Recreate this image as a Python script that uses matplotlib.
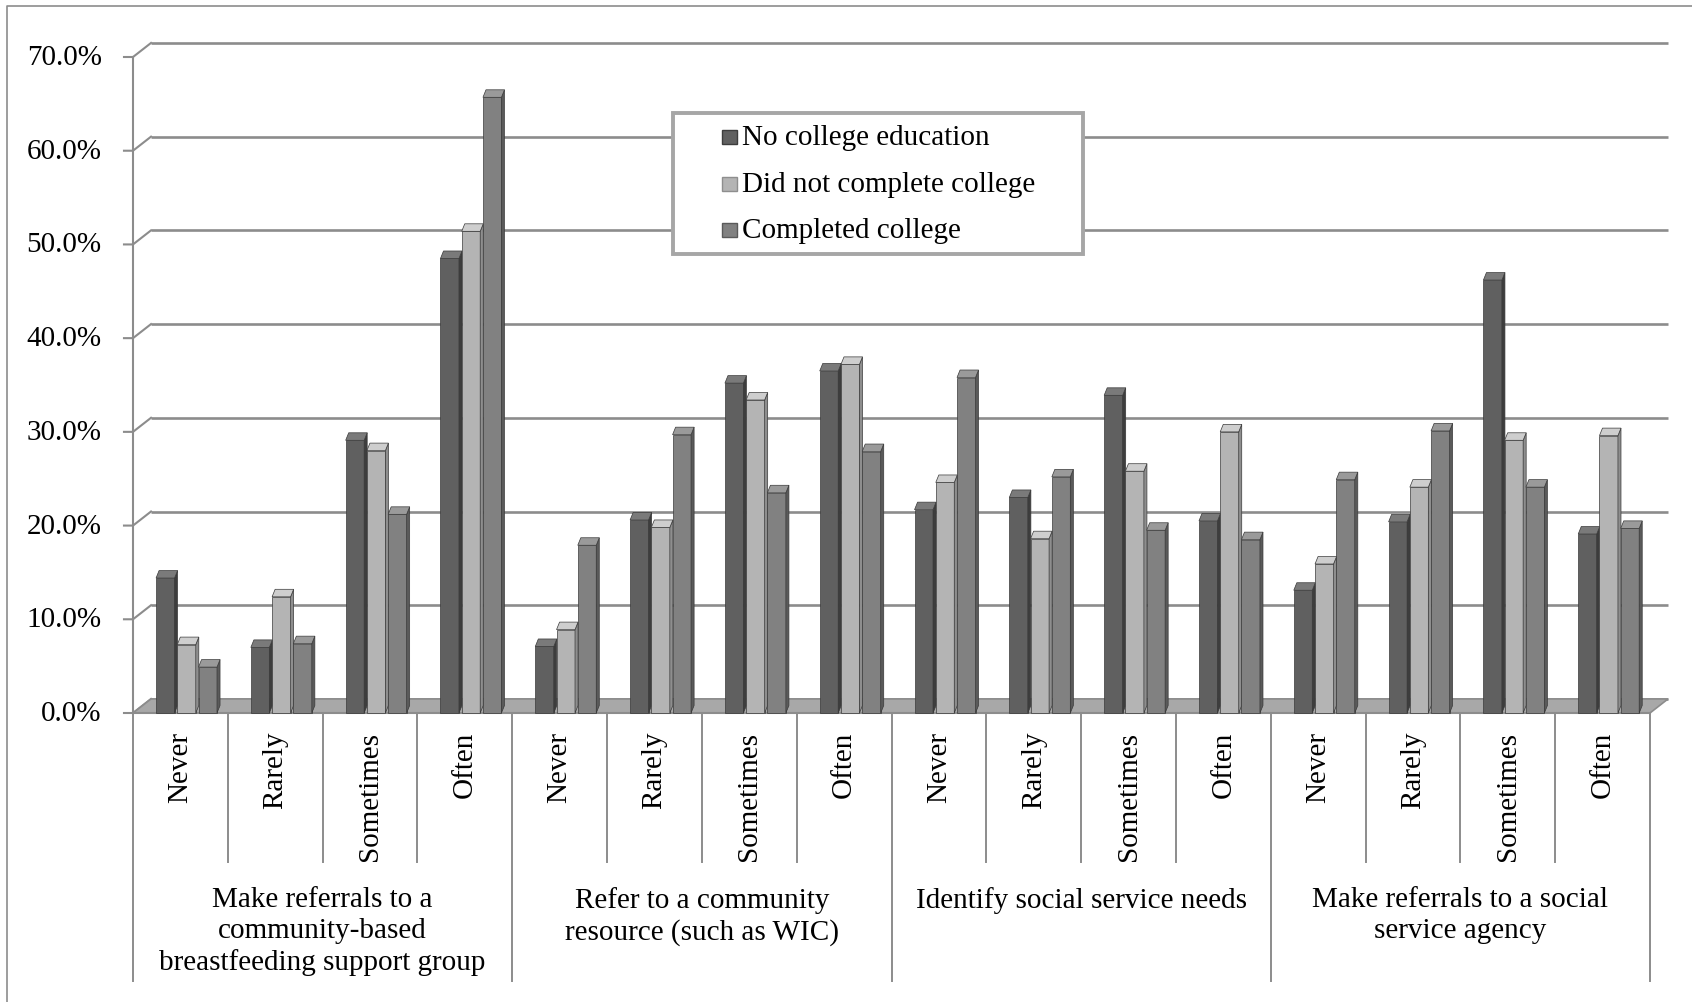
import matplotlib

matplotlib.use("Agg")
import matplotlib.pyplot as plt
from matplotlib.lines import Line2D
from matplotlib.patches import Polygon, Rectangle

plt.rcParams["font.family"] = ["Liberation Serif", "DejaVu Serif"]
plt.rcParams["font.size"] = 21

W, H = 1692, 1003

GROUPS = [
    "Make referrals to a\ncommunity-based\nbreastfeeding support group",
    "Refer to a community\nresource (such as WIC)",
    "Identify social service needs",
    "Make referrals to a social\nservice agency",
]
FREQUENCY = ["Never", "Rarely", "Sometimes", "Often"]
SERIES = ["No college education", "Did not complete college", "Completed college"]

# percent of respondents, 4 frequency levels per activity
no_college = [14.4, 7.0, 29.1, 48.5, 7.1, 20.6, 35.2, 36.5,
              21.7, 23.0, 33.9, 20.5, 13.1, 20.4, 46.2, 19.1]
some_college = [7.3, 12.4, 28.0, 51.4, 8.9, 19.8, 33.4, 37.2,
                24.6, 18.6, 25.8, 30.0, 15.9, 24.1, 29.1, 29.6]
completed = [4.9, 7.4, 21.2, 65.7, 17.9, 29.7, 23.5, 27.9,
             35.8, 25.2, 19.5, 18.5, 24.9, 30.1, 24.1, 19.7]
Y_TICKS = [0, 10, 20, 30, 40, 50, 60, 70]

# front / side / top shades for each series
SHADES = [
    ("#606060", "#3d3d3d", "#7a7a7a"),
    ("#b4b4b4", "#8e8e8e", "#cecece"),
    ("#818181", "#5a5a5a", "#9a9a9a"),
]
GRID = "#8c8c8c"

# depth offset of the back wall (x in category units, y in percent)
DX, DY = 0.19, 1.5
# depth of a single bar
BDX, BDY = 0.032, 0.8


def fig_xy(x, y):
    return x / W, 1 - y / H


fig = plt.figure(figsize=(W / 100, H / 100), dpi=100)
ax = fig.add_axes([133 / W, 1 - 714 / H, (1650 - 133) / W, (714 - 58) / H])
ax.set_xlim(0, 16)
ax.set_ylim(0, 70)
ax.axis("off")

n_cat = len(no_college)

# back wall gridlines and the diagonal joins to the front axis
for v in Y_TICKS:
    ax.plot([DX, n_cat + DX], [v + DY, v + DY], color=GRID, lw=1.9, zorder=1,
            clip_on=False, solid_capstyle="butt")
    ax.plot([-0.095, 0, DX], [v, v, v + DY], color=GRID, lw=1.5, zorder=1,
            clip_on=False)
    ax.text(-0.33, v, f"{v:.1f}%", ha="right", va="center", fontsize=21)
ax.plot([0, 0], [0, 70], color=GRID, lw=1.5, zorder=1, clip_on=False)

# floor
ax.add_patch(Polygon([[0, 0], [n_cat, 0], [n_cat + DX, DY], [DX, DY]],
                     closed=True, facecolor="#a8a8a8", edgecolor=GRID,
                     lw=1.2, zorder=2, clip_on=False))

# bars: front faces via ax.bar, side and top faces from each rectangle
pitch = 0.224
for j, values in enumerate([no_college, some_college, completed]):
    front, side, top = SHADES[j]
    xs = [i + 0.243 + j * pitch for i in range(n_cat)]
    bars = ax.bar(xs, values, width=0.195, align="edge", color=front,
                  edgecolor="#3a3a3a", linewidth=0.5, zorder=3, clip_on=False)
    for rect in bars:
        x0, w, h = rect.get_x(), rect.get_width(), rect.get_height()
        ax.add_patch(Polygon([[x0 + w, 0], [x0 + w + BDX, BDY],
                              [x0 + w + BDX, h + BDY], [x0 + w, h]],
                             closed=True, facecolor=side, edgecolor="#3a3a3a",
                             lw=0.5, zorder=3, clip_on=False))
        ax.add_patch(Polygon([[x0, h], [x0 + w, h], [x0 + w + BDX, h + BDY],
                              [x0 + BDX, h + BDY]],
                             closed=True, facecolor=top, edgecolor="#3a3a3a",
                             lw=0.5, zorder=3, clip_on=False))

# category axis
ax.plot([0, n_cat], [0, 0], color=GRID, lw=1.5, clip_on=False, zorder=2)
for i in range(n_cat + 1):
    bottom = -28.6 if i % 4 == 0 else -15.9
    ax.plot([i, i], [0, bottom], color=GRID, lw=1.4, clip_on=False, zorder=2)
for i in range(n_cat):
    ax.text(i + 0.5, -1.9, FREQUENCY[i % 4], rotation=90, ha="center",
            va="top", fontsize=21)
for g, label in enumerate(GROUPS):
    ax.text(g * 4 + 2, -18.45, label, ha="center", va="top", fontsize=21,
            linespacing=1.24)

# legend box
lx0, ly0 = fig_xy(673, 255)
lx1, ly1 = fig_xy(1083, 114)
fig.patches.append(Rectangle((lx0, ly0), lx1 - lx0, ly1 - ly0,
                             transform=fig.transFigure, facecolor="white",
                             edgecolor="#a6a6a6", lw=2.8, zorder=5))
for k, (name, row_y) in enumerate(zip(SERIES, [138, 184.5, 231])):
    sx, sy = fig_xy(722, row_y + 7)
    fig.patches.append(Rectangle((sx, sy), 15 / W, 14 / H,
                                 transform=fig.transFigure,
                                 facecolor=SHADES[k][0], edgecolor=SHADES[k][1],
                                 lw=1.0, zorder=6))
    tx, ty = fig_xy(742, row_y)
    fig.text(tx, ty, name, ha="left", va="center", fontsize=21, zorder=7)

# outer chart border (left and top edges)
bx, by = fig_xy(7, 7)
fig.add_artist(Line2D([bx, bx, 1.0], [0.0, by, by], transform=fig.transFigure,
                      color="#8c8c8c", lw=1.2))

fig.savefig("out.png", dpi=100)
